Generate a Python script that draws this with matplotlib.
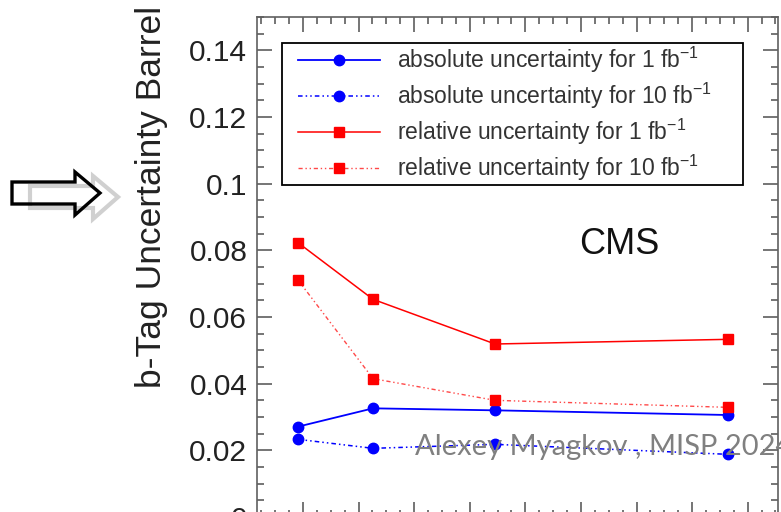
import matplotlib
matplotlib.use('Agg')
import matplotlib.pyplot as plt
from matplotlib.lines import Line2D
from matplotlib.patches import Polygon, Rectangle
from matplotlib.ticker import MultipleLocator, FuncFormatter

plt.rcParams['font.family'] = ['Liberation Sans', 'DejaVu Sans']
plt.rcParams['mathtext.fontset'] = 'custom'
plt.rcParams['mathtext.rm'] = 'Liberation Sans'
plt.rcParams['mathtext.default'] = 'regular'

# jet pT bin positions (x axis labels are cut off in the reference)
pt_bins = [38.2, 65.2, 109.1, 192.9]
abs_1fb = [0.0271, 0.0326, 0.0320, 0.0306]
abs_10fb = [0.0233, 0.0206, 0.0218, 0.0188]
rel_1fb = [0.0823, 0.0653, 0.0519, 0.0533]
rel_10fb = [0.0711, 0.0415, 0.0350, 0.0329]
labels = ['absolute uncertainty for 1 fb$^{-1}$',
          'absolute uncertainty for 10 fb$^{-1}$',
          'relative uncertainty for 1 fb$^{-1}$',
          'relative uncertainty for 10 fb$^{-1}$']

W, H = 781, 512
AX_L, AX_T, AX_W, AX_H = 257, 17, 521, 500
fig = plt.figure(figsize=(W / 100, H / 100), dpi=100)
ax = fig.add_axes([AX_L / W, (H - AX_T - AX_H) / H, AX_W / W, AX_H / H])


def axpix(x, y):
    """pixel position (from top-left of picture) -> axes fraction"""
    return (x - AX_L) / AX_W, (AX_T + AX_H - y) / AX_H


dashdot = (0, (3, 2, 1, 2, 1, 2))
styles = [dict(color='#0000ff', lw=1.3, marker='o'),
          dict(color='#0000ff', lw=1.1, ls=dashdot, marker='o'),
          dict(color='#ff0000', lw=1.1, marker='s'),
          dict(color='#ff4848', lw=1.0, ls=dashdot, marker='s',
               mfc='#ff0000', mec='#ff0000')]
for vals, st in zip([abs_1fb, abs_10fb, rel_1fb, rel_10fb], styles):
    ax.plot(pt_bins, vals, ms=7.5, **st)

ax.set_xlim(23.45, 210.9)
ax.set_ylim(0, 0.15)
ax.xaxis.set_major_locator(MultipleLocator(20))
ax.xaxis.set_minor_locator(MultipleLocator(5))
ax.yaxis.set_major_locator(MultipleLocator(0.02))
ax.yaxis.set_minor_locator(MultipleLocator(0.005))
ax.yaxis.set_major_formatter(FuncFormatter(lambda v, p: '%g' % round(v, 3)))
ax.tick_params(which='both', direction='in', top=True, right=True,
               color='#505050', width=1.1)
ax.tick_params(which='major', length=11)
ax.tick_params(which='minor', length=5)
ax.tick_params(axis='y', labelsize=21.5, pad=7, labelcolor='#222222')
ax.tick_params(axis='x', labelbottom=False)
for sp in ax.spines.values():
    sp.set_color('#606060')
    sp.set_linewidth(1.2)

# legend box drawn by hand to match the ROOT layout
x0, y0 = axpix(282, 43)
x1, y1 = axpix(743, 185)
ax.add_patch(Rectangle((x0, y1), x1 - x0, y0 - y1, transform=ax.transAxes,
                       fill=True, fc='white', ec='black', lw=1.3, zorder=5))
for i, (lab, st) in enumerate(zip(labels, styles)):
    ypix = 60 + i * 36
    xa, ya = axpix(298, ypix)
    xb, _ = axpix(380, ypix)
    xm, _ = axpix(339, ypix)
    line_st = {k: v for k, v in st.items() if k not in ('marker', 'mfc', 'mec')}
    ax.add_line(Line2D([xa, xb], [ya, ya], transform=ax.transAxes,
                       zorder=6, **line_st))
    ax.add_line(Line2D([xm], [ya], transform=ax.transAxes, ms=7.5,
                       ls='none', marker=st['marker'],
                       color=st.get('mfc', st['color']), zorder=7))
    xt, _ = axpix(397, ypix)
    ax.text(xt, ya, lab, transform=ax.transAxes, fontsize=16.5,
            va='center', ha='left', color='#333333', zorder=7)

ax.text(153.7, 0.0816, 'CMS', fontsize=26, ha='center', va='center',
        color='#111111')

fig.text(152 / W, 1 - 6 / H, 'b-Tag Uncertainty Barrel', rotation=90,
         ha='center', va='top', fontsize=25.5, color='#222222')

# slide decorations: outlined arrow with grey shadow
arrow = [(12, 182), (75, 182), (75, 172), (100, 193), (75, 215),
         (75, 204), (12, 204)]
shadow = [(x + 18, y + 4) for x, y in arrow]
for pts, col, lw in [(shadow, '#d0d0d0', 3), (arrow, 'black', 2.4)]:
    poly = Polygon([(x / W, 1 - y / H) for x, y in pts], closed=True,
                   fill=False, edgecolor=col, lw=lw, joinstyle='miter',
                   transform=fig.transFigure)
    fig.patches.append(poly)

fig.text(415 / W, (H - 455) / H, 'Alexey Myagkov , MISP 2024', fontsize=21,
         family='Lato', color='#808080', va='baseline')

fig.savefig('out.png', dpi=100)
